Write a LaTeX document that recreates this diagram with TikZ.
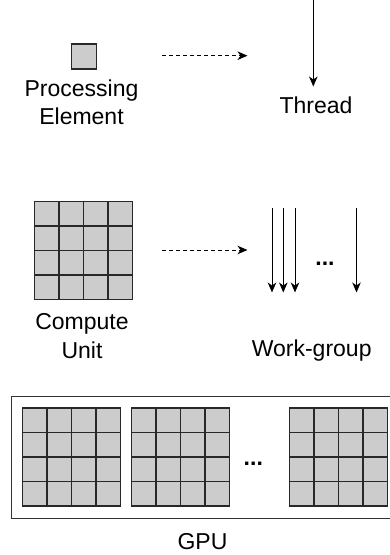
\documentclass[tikz,border=0pt]{standalone}
\usepackage{fontspec}
\setmainfont{Liberation Sans}
\usetikzlibrary{arrows.meta}
\definecolor{cellfill}{RGB}{204,204,204}
\definecolor{celledge}{RGB}{40,40,40}
\tikzset{
  label/.style={font=\fontsize{23}{28.5}\selectfont, inner sep=0pt, align=center},
  dots/.style={font=\fontsize{23}{28.5}\selectfont\bfseries, inner sep=0pt},
  cell/.style={fill=cellfill, draw=celledge, line width=1.4pt},
  frame/.style={minimum size=98pt, inner sep=0pt},
  tip/.style={-{Stealth[length=10pt,width=8.5pt,inset=3pt]}, line width=1pt},
  mapsto/.style={tip, dash pattern=on 4pt off 3pt},
  cugrid/.pic={
    \foreach \i in {0,...,3}
      \foreach \j in {0,...,3}
        \draw[cell] (\i*24.5,\j*24.5) rectangle ++(24.5,24.5);
  }
}
\begin{document}
\begin{tikzpicture}[x=1pt,y=-1pt]
\useasboundingbox (0,0) rectangle (390,555);

% processing element and thread
\node[cell, minimum size=25pt, inner sep=0pt] (pe) at (83.7,56.5) {};
\node[label, anchor=north] (pelab) at (81.5,79.5) {Processing\\Element};
\coordinate (m1s) at (162,55.7);
\coordinate (m1e) at (247.5,55.7);
\draw[mapsto] (m1s) -- (m1e);
\coordinate (thTop) at (313.3,-2);
\coordinate (thEnd) at (313.3,86.5);
\draw[tip] (thTop) -- (thEnd);
\node[label, anchor=base] (thlab) at (316,113.3) {Thread};

% compute unit and work-group
\node[frame] (cu) at (83.7,250.5) {};
\pic at (cu.north west) {cugrid};
\node[label, anchor=north] (culab) at (82,313.5) {Compute\\Unit};
\coordinate (m2s) at (162,250);
\coordinate (m2e) at (247.5,250);
\draw[mapsto] (m2s) -- (m2e);
\foreach \x [count=\k] in {272,283.3,295,356.5} {
  \coordinate (wgTop\k) at (\x,208);
  \coordinate (wgEnd\k) at (\x,292.5);
  \draw[tip] (wgTop\k) -- (wgEnd\k);
}
\node[dots, anchor=base] (wgdots) at (325,265.6) {...};
\node[label, anchor=base] (wglab) at (311.7,356.7) {Work-group};

% GPU made of compute units
\node[draw=black!80, line width=1.3pt, minimum width=382pt, minimum height=122pt,
      inner sep=0pt, anchor=north west] (gpu) at (11,396) {};
\node[frame] (g1) at (71.5,457) {};
\node[frame] (g2) at (180.5,457) {};
\node[frame] (g3) at (338.5,457) {};
\pic at (g1.north west) {cugrid};
\pic at (g2.north west) {cugrid};
\pic at (g3.north west) {cugrid};
\node[dots, anchor=base] (gdots) at (253.3,465) {...};
\node[label, anchor=base] (gpulab) at (202.5,549.3) {GPU};
\end{tikzpicture}
\end{document}
